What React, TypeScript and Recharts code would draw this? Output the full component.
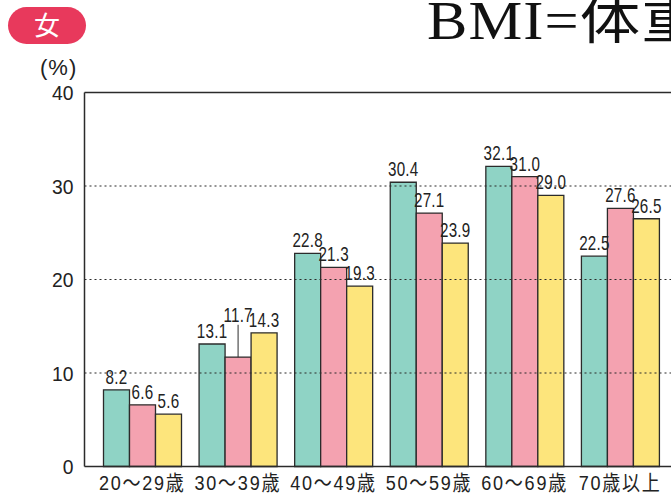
import { BarChart, Bar, XAxis, YAxis, ReferenceLine, LabelList } from "recharts";

// 年代別の割合（%）
const categories = ["20～29歳", "30～39歳", "40～49歳", "50～59歳", "60～69歳", "70歳以上"];
const seriesA = [8.2, 13.1, 22.8, 30.4, 32.1, 22.5];
const seriesB = [6.6, 11.7, 21.3, 27.1, 31.0, 27.6];
const seriesC = [5.6, 14.3, 19.3, 23.9, 29.0, 26.5];
const yTicks = [0, 10, 20, 30, 40];
const gridValues = [10, 20, 30];

const data = categories.map((age, i) => ({
  age,
  a: seriesA[i],
  b: seriesB[i],
  c: seriesC[i],
}));

const SANS = "'Liberation Sans', Arial, 'Noto Sans CJK JP', sans-serif";
const INK = "#222";
const OUTLINE = "#2b2b2b";

// condensed-looking numbers: regular sans squeezed horizontally
function Squeezed({ x, y, sx, size, anchor = "middle", spacing = 0, dy = 0, children }: any) {
  return (
    <text
      transform={`translate(${x},${y}) scale(${sx},1)`}
      textAnchor={anchor}
      dy={dy}
      fill={INK}
      style={{ fontFamily: SANS, fontSize: size, letterSpacing: spacing }}
    >
      {children}
    </text>
  );
}

// middle bar: when it is lower than both neighbours, lift the number above them with a leader line
const makeLabel = (liftWhenLow: boolean) => (props: any) => {
  const { x, y, width, height, value, index } = props;
  const cx = Number(x) + Number(width) / 2;
  const text = Number(value).toFixed(1);
  const left = seriesA[index];
  const right = seriesC[index];
  if (liftWhenLow && value < left && value < right) {
    const perUnit = Number(height) / Number(value);
    const top = Number(y) + Number(height) - Math.max(left, right) * perUnit;
    const ty = top - 11;
    return (
      <g>
        <Squeezed x={cx} y={ty} sx={0.76} size={20} spacing={0.3}>
          {text}
        </Squeezed>
        <line x1={cx} x2={cx} y1={ty + 3} y2={Number(y)} stroke={OUTLINE} strokeWidth={1} />
      </g>
    );
  }
  return (
    <Squeezed x={cx} y={Number(y) - 6} sx={0.76} size={20} spacing={0.3}>
      {text}
    </Squeezed>
  );
};

const YTick = (props: any) => (
  <Squeezed x={props.x} y={props.y} sx={0.92} size={21} anchor="end" dy="0.36em">
    {props.payload.value}
  </Squeezed>
);

const XTick = (props: any) => (
  <Squeezed x={props.x} y={props.y} sx={0.86} size={21} spacing={2} dy={15.5}>
    {props.payload.value}
  </Squeezed>
);

export default function App() {
  return (
    <div
      style={{
        position: "fixed",
        left: 0,
        top: 0,
        width: 671,
        height: 500,
        overflow: "hidden",
        background: "#fff",
      }}
    >
      <div style={{ position: "absolute", left: 0, top: 0 }}>
        <BarChart
          width={700}
          height={500}
          data={data}
          margin={{ top: 92.5, right: 22, bottom: 3.5, left: 24.5 }}
          barGap={0}
          barSize={26}
        >
          <XAxis
            dataKey="age"
            height={30}
            padding={{ left: 10, right: 10 }}
            tickLine={false}
            axisLine={{ stroke: OUTLINE, strokeWidth: 1.5 }}
            tick={<XTick />}
            interval={0}
          />
          <YAxis
            width={60}
            domain={[0, 40]}
            ticks={yTicks}
            tickLine={false}
            tickMargin={5}
            axisLine={{ stroke: OUTLINE, strokeWidth: 1.5 }}
            tick={<YTick />}
          />
          {gridValues.map((v) => (
            <ReferenceLine key={v} y={v} stroke={OUTLINE} strokeWidth={1.2} strokeDasharray="2 3" />
          ))}
          <ReferenceLine y={40} stroke={OUTLINE} strokeWidth={1.5} />
          <Bar dataKey="a" fill="#8fd3c5" stroke={OUTLINE} strokeWidth={1.3} isAnimationActive={false}>
            <LabelList dataKey="a" content={makeLabel(false)} />
          </Bar>
          <Bar dataKey="b" fill="#f4a2b0" stroke={OUTLINE} strokeWidth={1.3} isAnimationActive={false}>
            <LabelList dataKey="b" content={makeLabel(true)} />
          </Bar>
          <Bar dataKey="c" fill="#fde57c" stroke={OUTLINE} strokeWidth={1.3} isAnimationActive={false}>
            <LabelList dataKey="c" content={makeLabel(false)} />
          </Bar>
        </BarChart>
      </div>
      <svg
        width={671}
        height={500}
        style={{ position: "absolute", left: 0, top: 0, pointerEvents: "none" }}
      >
        <rect x={8} y={7} width={78} height={37} rx={18.5} fill="#e8395c" />
        <text
          x={47}
          y={35}
          textAnchor="middle"
          fill="#fff"
          style={{ fontFamily: "'Noto Sans CJK JP', sans-serif", fontSize: 26 }}
        >
          女
        </text>
        <text
          transform="translate(427,39) scale(1.12,1)"
          fill="#111"
          style={{
            fontFamily: "'Liberation Serif', 'Noto Sans CJK JP', serif",
            fontSize: 54,
            letterSpacing: 1,
          }}
        >
          BMI=体重
        </text>
        <text x={40} y={75} fill={INK} style={{ fontFamily: SANS, fontSize: 22, letterSpacing: 1 }}>
          (%)
        </text>
      </svg>
    </div>
  );
}
